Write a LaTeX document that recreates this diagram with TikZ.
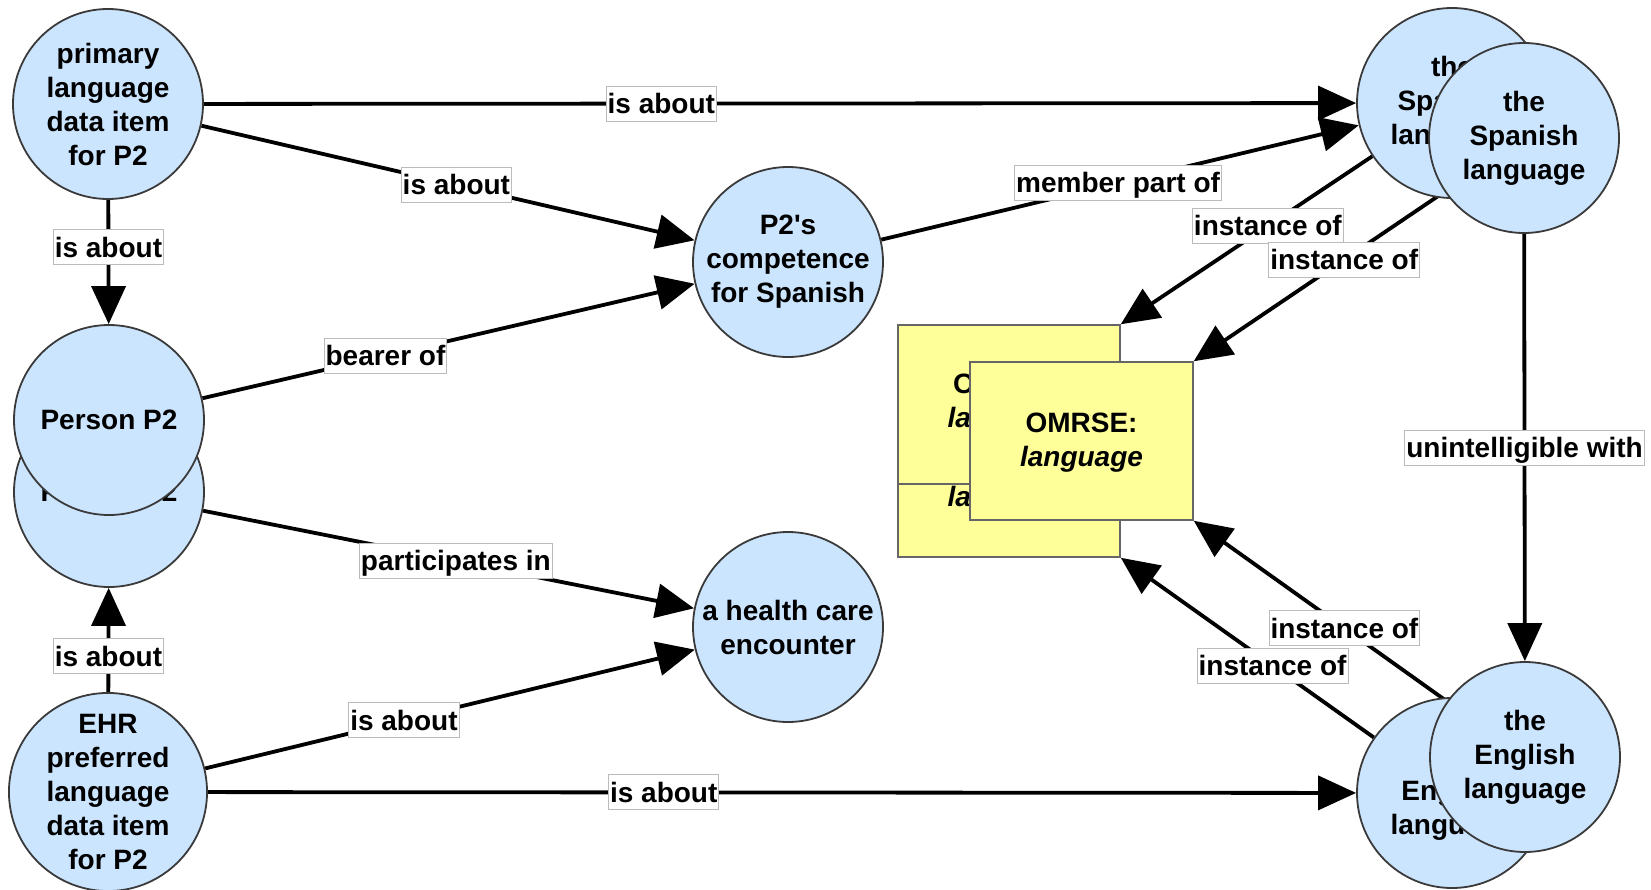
\documentclass[tikz,border=0pt]{standalone}
\usepackage{fontspec}
\setmainfont{Liberation Sans}
\usetikzlibrary{arrows.meta,backgrounds,calc}
\definecolor{nodeblue}{HTML}{CCE5FF}
\definecolor{boxyellow}{HTML}{FFFF99}
\definecolor{rimgray}{HTML}{3A3A3A}
\definecolor{boxrim}{HTML}{666666}
\definecolor{lblrim}{HTML}{BBBBBB}

\begin{document}
\begin{tikzpicture}[x=1pt,y=-1pt,
  concept/.style={circle, draw=rimgray, line width=1.8pt, fill=nodeblue,
    minimum size=190pt, inner sep=0pt, align=center,
    font=\fontsize{28}{34}\selectfont\bfseries},
  classbox/.style={rectangle, draw=boxrim, line width=1.5pt, fill=boxyellow,
    inner sep=0pt},
  boxtext/.style={align=center, inner sep=0pt,
    font=\fontsize{28}{34}\selectfont\bfseries},
  rel/.style={line width=3.8pt, -{Triangle[length=38pt,width=34pt]}},
  lbl/.style={fill=white, draw=lblrim, line width=1pt, inner xsep=1.5pt,
    inner ysep=3.5pt, text height=24pt, text depth=4pt,
    font=\fontsize{28}{34}\selectfont\bfseries}
]
\useasboundingbox (0,0) rectangle (1651,889);

% data items, person and competence
\node[concept] (pd) at (108,104) {primary\\language\\data item\\for P2};
\node[concept] (pl) at (109,492) {Person P2};
\node[concept] (pu) at (109,420) {Person P2};
\node[concept] (ehr) at (108,792) {EHR\\preferred\\language\\data item\\for P2};
\node[concept] (comp) at (788,262) {P2\textquotesingle s\\competence\\for Spanish};
\node[concept] (hc) at (788,627) {a health care\\encounter};

% languages
\node[concept] (sb) at (1452,103) {the\\Spanish\\language};
\node[concept] (sf) at (1524,138) {the\\Spanish\\language};
\node[concept] (eb) at (1452,793) {the\\English\\language};
\node[concept] (ef) at (1525,757) {the\\English\\language};

% OMRSE class boxes
\node[classbox, minimum width=222pt, minimum height=232pt] (yb) at (1009,441) {};
\draw[boxrim, line width=1.5pt] ($(yb.south west)+(0,-74)$) -- ($(yb.south east)+(0,-74)$);
\node[boxtext] (ybt) at (1009,404) {OMRSE:\\\textit{language}};
\node[boxtext, anchor=north] (ybl) at (1009,486) {\textit{language}};
\node[classbox, minimum width=223pt, minimum height=158pt] (yf) at (1081.5,441) {};
\node[boxtext] (yft) at (1081.5,443) {OMRSE:\\\textit{language}};

% relations
\begin{pgfonlayer}{background}
\draw[rel] (pd) -- node[lbl,pos=0.397] {is about} (sb);
\draw[rel] (pd) -- node[lbl,pos=0.517] {is about} (comp);
\draw[rel] (pd) -- node[lbl,pos=0.38] {is about} (pu);
\draw[rel] (pu) -- node[lbl,pos=0.372] {bearer of} (comp);
\draw[rel] (comp) -- node[lbl,pos=0.496] {member part of} (sb);
\draw[rel] (sb) -- node[lbl,pos=0.415] {instance of} (yb.north east);
\draw[rel] (sf) -- node[lbl,pos=0.40] {instance of} (yf.north east);
\draw[rel] (sf) -- node[lbl,pos=0.50] {unintelligible with} (ef);
\draw[rel] (ef) -- node[lbl,pos=0.405] {instance of} (yf.south east);
\draw[rel] (eb) -- node[lbl,pos=0.40] {instance of} (yb.south east);
\draw[rel] (pl) -- node[lbl,pos=0.515] {participates in} (hc);
\draw[rel] (ehr) -- node[lbl,pos=0.345] {is about} (pl);
\draw[rel] (ehr) -- node[lbl,pos=0.406] {is about} (hc);
\draw[rel] (ehr) -- node[lbl,pos=0.397] {is about} (eb);
\end{pgfonlayer}
\end{tikzpicture}
\end{document}
